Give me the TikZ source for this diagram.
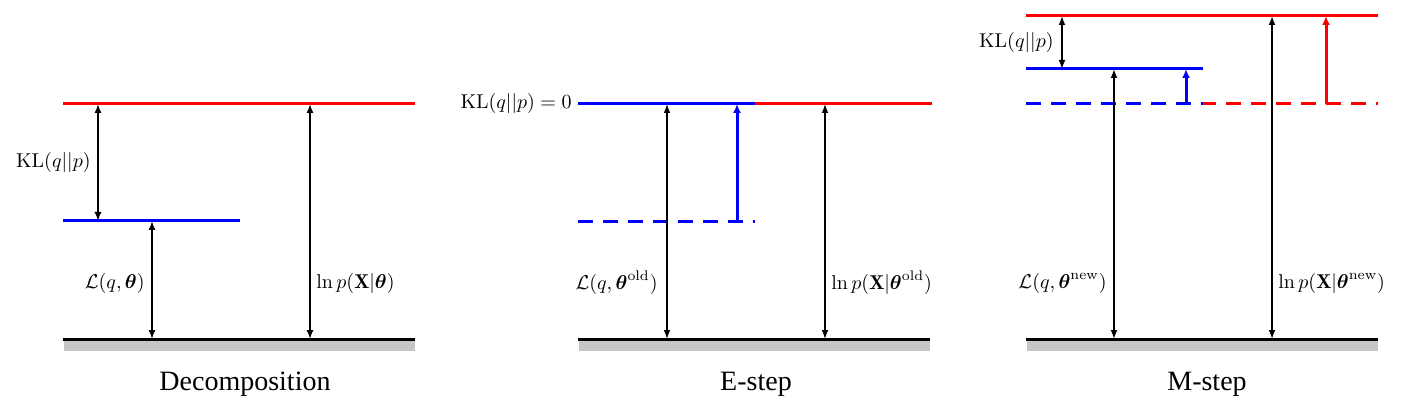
\documentclass[tikz,border=0pt]{standalone}
\usepackage{amsmath,amssymb}
\usepackage{fontspec}
\newfontfamily\capfont{Liberation Serif}
\usetikzlibrary{arrows.meta}
\begin{document}
\begin{tikzpicture}[x=0.5pt,y=-0.5pt,
  lvl/.style={line width=1.5pt},
  baseline/.style={line width=1.1pt,black},
  ground/.style={fill=gray!45,draw=none},
  dblthick/.style={{Latex[length=4.5pt,width=3.6pt]}-{Latex[length=4.5pt,width=3.6pt]},line width=1.1pt},
  dblthin/.style={{Latex[length=4.5pt,width=3.4pt]}-{Latex[length=4.5pt,width=3.4pt]},line width=0.75pt},
  uparrow/.style={-{Latex[length=4.5pt,width=4pt]},line width=1.5pt},
  dsh/.style={dash pattern=on 7.5pt off 5pt},
  lab/.style={inner sep=0pt},
  captxt/.style={font=\capfont\fontsize{14}{16}\selectfont,anchor=base,inner sep=0pt}
]
\useasboundingbox (0,0) rectangle (1401,406);

% ---------------- Panel 1: Decomposition ----------------
\coordinate (a-top-l) at (63,104);   \coordinate (a-top-r) at (415,104);
\coordinate (a-mid-l) at (63,221);   \coordinate (a-mid-r) at (240,221);
\coordinate (a-base-l) at (63,339.5);\coordinate (a-base-r) at (415,339.5);
\coordinate (a-kl-t) at (98,104);    \coordinate (a-kl-b) at (98,221);
\coordinate (a-L-t) at (152,221);    \coordinate (a-L-b) at (152,339);
\coordinate (a-p-t) at (310,104);    \coordinate (a-p-b) at (310,339);
\fill[ground] (64,340) rectangle (415,351);
\draw[baseline] (a-base-l) -- (a-base-r);
\draw[lvl,red] (a-top-l) -- (a-top-r);
\draw[lvl,blue] (a-mid-l) -- (a-mid-r);
\draw[dblthick] (a-kl-t) -- (a-kl-b);
\draw[dblthick] (a-L-t) -- (a-L-b);
\draw[dblthick] (a-p-t) -- (a-p-b);
\node[lab,anchor=east] (a-kl-lab) at (91,163) {$\mathrm{KL}(q||p)$};
\node[lab,anchor=east] (a-L-lab) at (145,283) {$\mathcal{L}(q,\boldsymbol{\theta})$};
\node[lab,anchor=west] (a-p-lab) at (316,283) {$\ln p(\mathbf{X}|\boldsymbol{\theta})$};
\node[captxt] (a-cap) at (245,390) {Decomposition};

% ---------------- Panel 2: E-step ----------------
\coordinate (b-top-l) at (578,104);  \coordinate (b-top-m) at (755,104);
\coordinate (b-top-r) at (932,104);
\coordinate (b-old-l) at (578,222);  \coordinate (b-old-r) at (755,222);
\coordinate (b-base-l) at (578,339.5);\coordinate (b-base-r) at (930,339.5);
\coordinate (b-L-t) at (667,104);    \coordinate (b-L-b) at (667,339);
\coordinate (b-up-b) at (737,222);   \coordinate (b-up-t) at (737,104);
\coordinate (b-p-t) at (825,104);    \coordinate (b-p-b) at (825,339);
\fill[ground] (579,340) rectangle (930,351);
\draw[baseline] (b-base-l) -- (b-base-r);
\draw[lvl,blue,dsh] (b-old-l) -- (b-old-r);
\draw[lvl,red] (b-top-m) -- (b-top-r);
\draw[lvl,blue] (b-top-l) -- (b-top-m);
\draw[uparrow,blue] (b-up-b) -- (b-up-t);
\draw[dblthin] (b-L-t) -- (b-L-b);
\draw[dblthin] (b-p-t) -- (b-p-b);
\node[lab,anchor=east] (b-kl-lab) at (572,104) {$\mathrm{KL}(q||p)=0$};
\node[lab,anchor=east] (b-L-lab) at (658,283) {$\mathcal{L}(q,\boldsymbol{\theta}^{\mathrm{old}})$};
\node[lab,anchor=west] (b-p-lab) at (831,283) {$\ln p(\mathbf{X}|\boldsymbol{\theta}^{\mathrm{old}})$};
\node[captxt] (b-cap) at (756,390) {E-step};

% ---------------- Panel 3: M-step ----------------
\coordinate (c-top-l) at (1026,16);  \coordinate (c-top-r) at (1378,16);
\coordinate (c-mid-l) at (1026,69);  \coordinate (c-mid-r) at (1203,69);
\coordinate (c-old-l) at (1026,104); \coordinate (c-old-m) at (1203,104);
\coordinate (c-old-r) at (1378,104);
\coordinate (c-base-l) at (1026,339.5);\coordinate (c-base-r) at (1378,339.5);
\coordinate (c-kl-t) at (1062,16);   \coordinate (c-kl-b) at (1062,69);
\coordinate (c-L-t) at (1114,69);    \coordinate (c-L-b) at (1114,339);
\coordinate (c-bu-b) at (1186,104);  \coordinate (c-bu-t) at (1186,69);
\coordinate (c-p-t) at (1272,16);    \coordinate (c-p-b) at (1272,339);
\coordinate (c-ru-b) at (1326,104);  \coordinate (c-ru-t) at (1326,16);
\fill[ground] (1027,340) rectangle (1378,351);
\draw[baseline] (c-base-l) -- (c-base-r);
\draw[lvl,red] (c-top-l) -- (c-top-r);
\draw[lvl,blue] (c-mid-l) -- (c-mid-r);
\draw[lvl,blue,dsh] (c-old-l) -- (c-old-m);
\draw[lvl,red,dsh,dash phase=1pt] (c-old-m) -- (c-old-r);
\draw[uparrow,blue] (c-bu-b) -- (c-bu-t);
\draw[uparrow,red] (c-ru-b) -- (c-ru-t);
\draw[dblthin] (c-kl-t) -- (c-kl-b);
\draw[dblthin] (c-L-t) -- (c-L-b);
\draw[dblthin] (c-p-t) -- (c-p-b);
\node[lab,anchor=east] (c-kl-lab) at (1054,43) {$\mathrm{KL}(q||p)$};
\node[lab,anchor=east] (c-L-lab) at (1107,283) {$\mathcal{L}(q,\boldsymbol{\theta}^{\mathrm{new}})$};
\node[lab,anchor=west] (c-p-lab) at (1278,283) {$\ln p(\mathbf{X}|\boldsymbol{\theta}^{\mathrm{new}})$};
\node[captxt] (c-cap) at (1207,390) {M-step};
\end{tikzpicture}
\end{document}
